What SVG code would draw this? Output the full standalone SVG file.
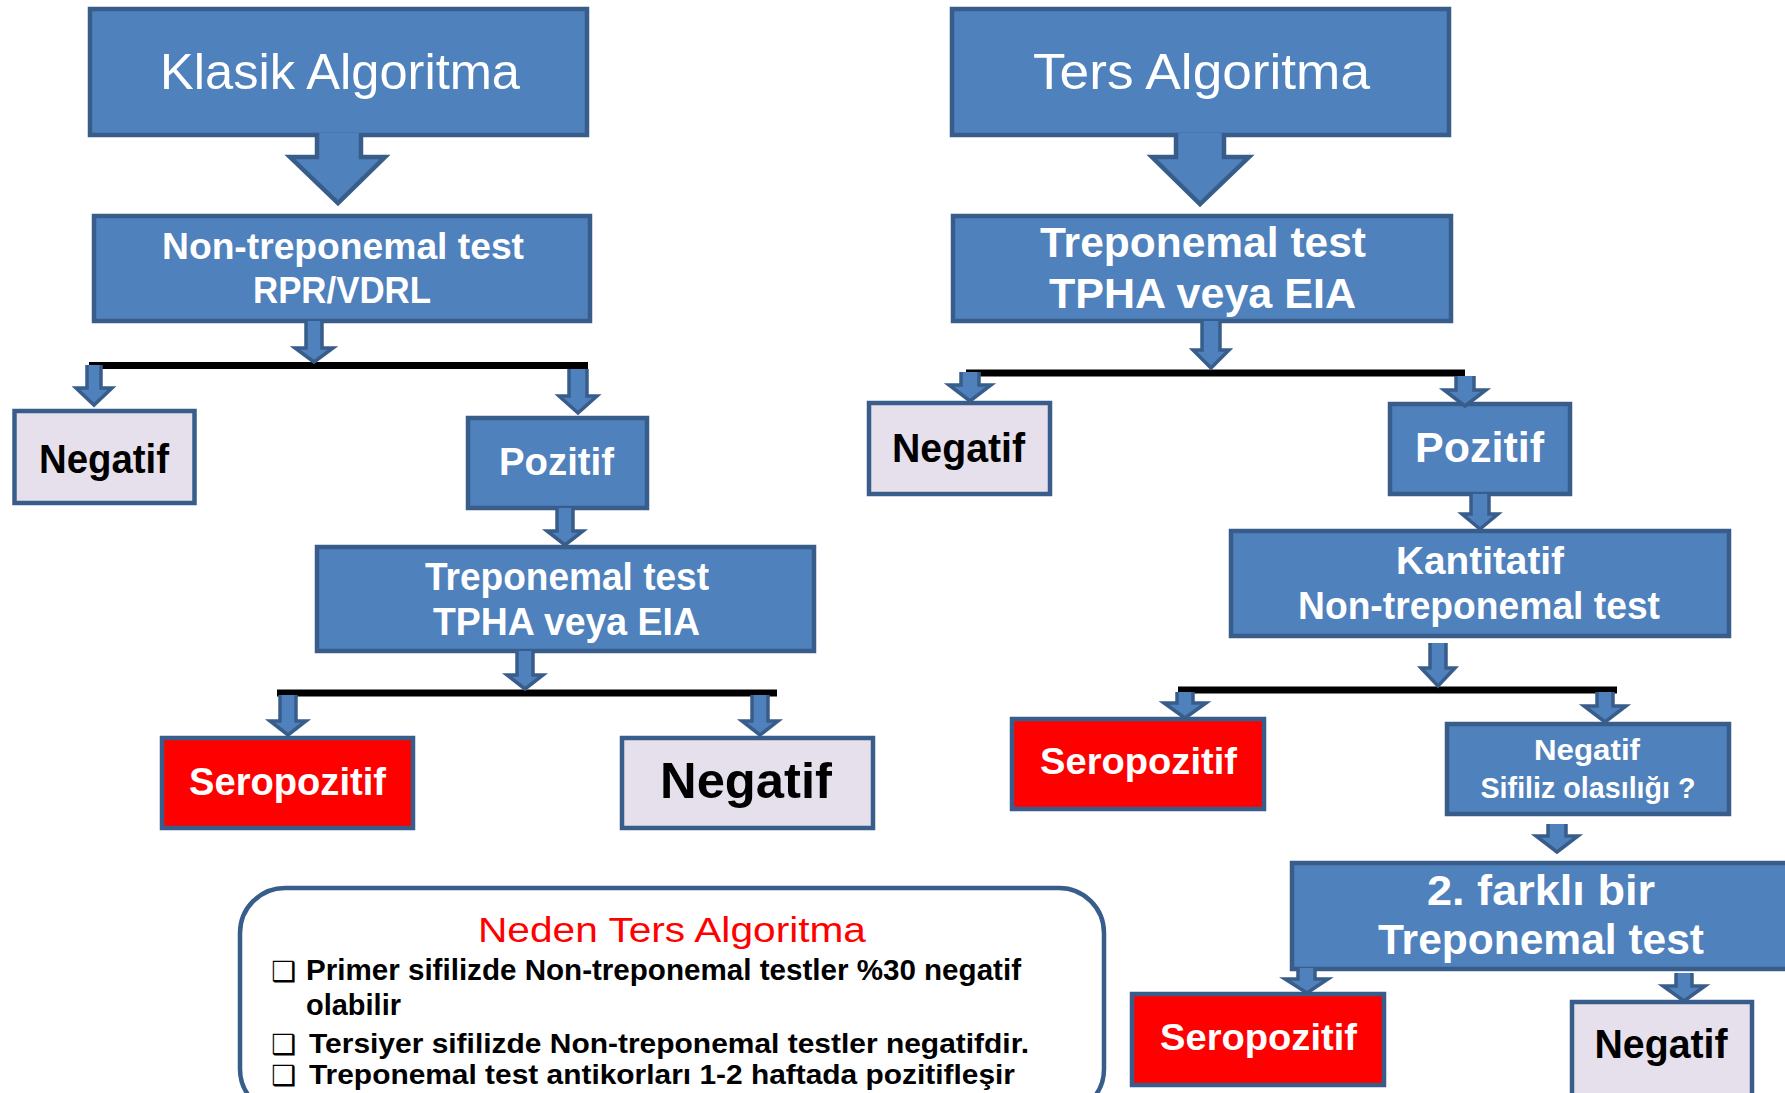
<svg xmlns="http://www.w3.org/2000/svg" width="1785" height="1093" viewBox="0 0 1785 1093">
  <style>
    .box { fill: #4F81BD; stroke: #385D8A; stroke-width: 4.5; }
    .neg { fill: #E6E0EC; stroke: #385D8A; stroke-width: 4.5; }
    .red { fill: #FF0000; stroke: #385D8A; stroke-width: 4.5; }
    .note { fill: #FFFFFF; stroke: #385D8A; stroke-width: 4.5; }
    .arr { fill: #4F81BD; stroke: #385D8A; stroke-width: 3.5; stroke-linejoin: miter; }
    .big { fill: #4F81BD; stroke: #385D8A; stroke-width: 4.5; stroke-linejoin: miter; }
    .bar { fill: #000000; }
    text { font-family: "Liberation Sans", "Open Sans", sans-serif; text-anchor: middle; }
    .w { fill: #FFFFFF; font-weight: 700; }
    .k { fill: #000000; font-weight: 700; }
    .t { fill: #FFFFFF; font-weight: 400; }
    .r { fill: #FF0000; font-weight: 400; }
    .b { fill: #000000; font-weight: 700; text-anchor: start; }
    .bul { fill: #000000; font-family: "DejaVu Sans", sans-serif; text-anchor: start; }
  </style>

  <!-- Left flow: classic algorithm -->
  <g id="klasik">
    <rect class="box" x="90" y="9" width="497" height="126"/>
    <text class="t" x="340" y="89" font-size="50" textLength="360" lengthAdjust="spacingAndGlyphs">Klasik Algoritma</text>
  </g>
  <g id="nontrep-l">
    <rect class="box" x="94" y="216" width="496" height="105"/>
    <text class="w" x="343" y="259" font-size="36" textLength="362" lengthAdjust="spacingAndGlyphs">Non-treponemal test</text>
    <text class="w" x="342" y="303" font-size="36" textLength="178" lengthAdjust="spacingAndGlyphs">RPR/VDRL</text>
  </g>
  <g id="negatif-l1">
    <rect class="neg" x="14.5" y="411" width="180" height="92"/>
    <text class="k" x="104" y="473" font-size="41" textLength="130" lengthAdjust="spacingAndGlyphs">Negatif</text>
  </g>
  <g id="pozitif-l">
    <rect class="box" x="468" y="418" width="179" height="90"/>
    <text class="w" x="556.5" y="475" font-size="38" textLength="115" lengthAdjust="spacingAndGlyphs">Pozitif</text>
  </g>
  <g id="trep-l">
    <rect class="box" x="317" y="547" width="497" height="104"/>
    <text class="w" x="567" y="590" font-size="38" textLength="284" lengthAdjust="spacingAndGlyphs">Treponemal test</text>
    <text class="w" x="566.5" y="635" font-size="38" textLength="267" lengthAdjust="spacingAndGlyphs">TPHA veya EIA</text>
  </g>
  <g id="sero-l">
    <rect class="red" x="162" y="738" width="251" height="90"/>
    <text class="w" x="287.5" y="795" font-size="38" textLength="197" lengthAdjust="spacingAndGlyphs">Seropozitif</text>
  </g>
  <g id="negatif-l2">
    <rect class="neg" x="622" y="738" width="251" height="90"/>
    <text class="k" x="746" y="798" font-size="50" textLength="172" lengthAdjust="spacingAndGlyphs">Negatif</text>
  </g>

  <!-- Right flow: reverse algorithm -->
  <g id="ters">
    <rect class="box" x="952" y="9" width="497" height="126"/>
    <text class="t" x="1201.5" y="89" font-size="50" textLength="337" lengthAdjust="spacingAndGlyphs">Ters Algoritma</text>
  </g>
  <g id="trep-r">
    <rect class="box" x="953" y="216" width="498" height="105"/>
    <text class="w" x="1203" y="257" font-size="42" textLength="326" lengthAdjust="spacingAndGlyphs">Treponemal test</text>
    <text class="w" x="1202.5" y="308" font-size="42" textLength="307" lengthAdjust="spacingAndGlyphs">TPHA veya EIA</text>
  </g>
  <g id="negatif-r1">
    <rect class="neg" x="869" y="403" width="181" height="91"/>
    <text class="k" x="958.5" y="462" font-size="40" textLength="133" lengthAdjust="spacingAndGlyphs">Negatif</text>
  </g>
  <g id="pozitif-r">
    <rect class="box" x="1390" y="404" width="180" height="90"/>
    <text class="w" x="1479.5" y="462" font-size="42" textLength="129" lengthAdjust="spacingAndGlyphs">Pozitif</text>
  </g>
  <g id="kantitatif">
    <rect class="box" x="1231" y="531" width="498" height="105"/>
    <text class="w" x="1480" y="574" font-size="39" textLength="168" lengthAdjust="spacingAndGlyphs">Kantitatif</text>
    <text class="w" x="1479" y="619" font-size="38" textLength="362" lengthAdjust="spacingAndGlyphs">Non-treponemal test</text>
  </g>
  <g id="sero-r1">
    <rect class="red" x="1012" y="719" width="252" height="90"/>
    <text class="w" x="1138.5" y="774" font-size="37" textLength="197" lengthAdjust="spacingAndGlyphs">Seropozitif</text>
  </g>
  <g id="negatif-sifiliz">
    <rect class="box" x="1447" y="724" width="282" height="90"/>
    <text class="w" x="1587" y="760" font-size="30" textLength="106" lengthAdjust="spacingAndGlyphs">Negatif</text>
    <text class="w" x="1588" y="798" font-size="30" textLength="215" lengthAdjust="spacingAndGlyphs">Sifiliz olasılığı ?</text>
  </g>
  <g id="trep-2">
    <rect class="box" x="1292" y="863" width="520" height="106"/>
    <text class="w" x="1541" y="905" font-size="43" textLength="228" lengthAdjust="spacingAndGlyphs">2. farklı bir</text>
    <text class="w" x="1541" y="954" font-size="43" textLength="326" lengthAdjust="spacingAndGlyphs">Treponemal test</text>
  </g>
  <g id="sero-r2">
    <rect class="red" x="1132" y="994" width="252" height="91"/>
    <text class="w" x="1258.5" y="1050" font-size="37" textLength="197" lengthAdjust="spacingAndGlyphs">Seropozitif</text>
  </g>
  <g id="negatif-r2">
    <rect class="neg" x="1572" y="1002" width="180" height="110"/>
    <text class="k" x="1661" y="1058" font-size="40" textLength="133" lengthAdjust="spacingAndGlyphs">Negatif</text>
  </g>

  <!-- Note box -->
  <g id="neden">
    <rect class="note" x="240" y="888" width="864" height="226" rx="45" ry="45"/>
    <text class="r" x="672" y="942" font-size="35" textLength="388" lengthAdjust="spacingAndGlyphs">Neden Ters Algoritma</text>
    <text class="bul" x="271" y="981" font-size="28">❑</text>
    <text class="b" x="306" y="980" font-size="30" textLength="715" lengthAdjust="spacingAndGlyphs">Primer sifilizde Non-treponemal testler %30 negatif</text>
    <text class="b" x="306" y="1015" font-size="30" textLength="95" lengthAdjust="spacingAndGlyphs">olabilir</text>
    <text class="bul" x="271" y="1054" font-size="28">❑</text>
    <text class="b" x="309" y="1053" font-size="28" textLength="720" lengthAdjust="spacingAndGlyphs">Tersiyer sifilizde Non-treponemal testler negatifdir.</text>
    <text class="bul" x="271" y="1085" font-size="28">❑</text>
    <text class="b" x="309" y="1084" font-size="28" textLength="706" lengthAdjust="spacingAndGlyphs">Treponemal test antikorları 1-2 haftada pozitifleşir</text>
  </g>

  <!-- Connectors: block arrows and split bars -->
  <g id="connectors">
    <!-- split bars -->
    <rect class="bar" x="89" y="362" width="499" height="7"/>
    <rect class="bar" x="277" y="689.5" width="500" height="7"/>
    <rect class="bar" x="966" y="369.5" width="499" height="7"/>
    <rect class="bar" x="1178" y="686.5" width="439" height="7"/>

    <!-- large arrows under the title boxes (open paths: no stroke along the top) -->
    <path class="big" d="M317,133 V157 H290 L338,203 L385,157 H361 V133"/>
    <path class="big" d="M1176,133 V157 H1152 L1200,204 L1249,157 H1224 V133"/>

    <!-- left flow -->
    <path class="arr" d="M306,321 V348 H295 L314,362 L333,348 H322 V321"/>
    <path class="arr" d="M87,365 V388 H76 L94,405 L112,388 H101 V365"/>
    <path class="arr" d="M569,369 V396 H559 L578,413 L597,396 H587 V369"/>
    <path class="arr" d="M557,508 V531 H547 L565,545 L583,531 H573 V508"/>
    <path class="arr" d="M517,651 V675 H507 L525,689 L543,675 H533 V651"/>
    <path class="arr" d="M280,695 V721 H270 L288,735 L306,721 H296 V695"/>
    <path class="arr" d="M752,695 V721 H742 L760,735 L778,721 H768 V695"/>

    <!-- right flow -->
    <path class="arr" d="M1202,321 V350 H1193 L1211,368 L1229,350 H1220 V321"/>
    <path class="arr" d="M961,372 V385 H949 L970,401 L991,385 H979 V372"/>
    <path class="arr" d="M1456,376 V390 H1444 L1465,406 L1486,390 H1474 V376"/>
    <path class="arr" d="M1471,494 V514 H1462 L1480,529 L1498,514 H1489 V494"/>
    <path class="arr" d="M1430,643 V668 H1421 L1438,686 L1455,668 H1446 V643"/>
    <path class="arr" d="M1177,692 V703 H1164 L1185,718 L1206,703 H1193 V692"/>
    <path class="arr" d="M1597,692 V706 H1584 L1605,722 L1626,706 H1613 V692"/>
    <path class="arr" d="M1548,824 V836 H1536 L1557,852 L1578,836 H1566 V824"/>
    <path class="arr" d="M1298,968 V979 H1285 L1307,993 L1328,979 H1315 V968"/>
    <path class="arr" d="M1676,973 V986 H1663 L1684,1001 L1705,986 H1692 V973"/>
  </g>
</svg>
